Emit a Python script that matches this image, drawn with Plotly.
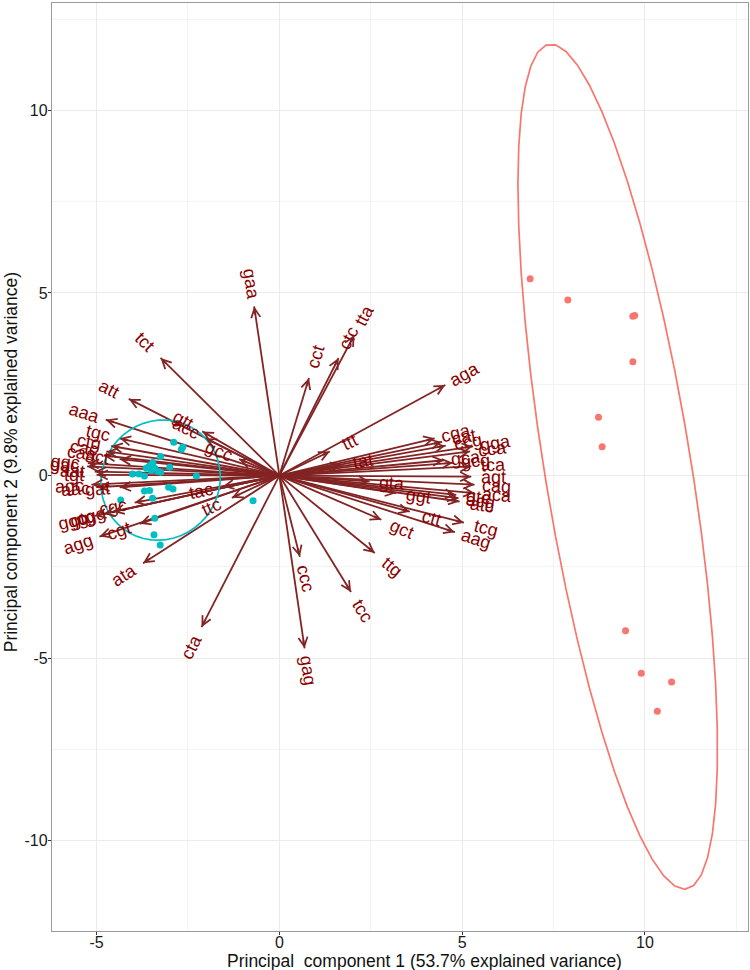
import numpy as np
import plotly.graph_objects as go

# ---- variable loadings (arrows) ----
var_names = ["gaa", "tct", "att", "aaa", "gtt", "acc", "gcc", "tac", "ttc",
             "tgc", "ctg", "cac", "caa", "act", "ggc", "gac", "aat", "tgt",
             "agc", "aac", "gat", "cgc", "cgg", "gtg", "ggg", "cgt", "agg", "ata",
             "cta", "ccc", "gag", "tcc", "ttg",
             "cct", "ctc", "tta", "aga",
             "ttt", "tat", "gta", "ggt", "ctt", "gct", "tcg", "aag",
             "cga", "cat", "ccg", "gga", "cca", "gca", "gcg", "tca", "agt",
             "cag", "aca", "gtc", "acg", "atc"]
var_pc1 = [-0.69, -3.25, -4.12, -4.75, -2.11, -2.02, -1.10, -1.55, -1.30,
           -4.37, -4.60, -4.73, -4.80, -4.37, -5.24, -5.26, -5.05, -5.00,
           -5.14, -4.96, -4.37, -3.96, -4.55, -4.80, -5.05, -3.82, -4.92, -3.73,
           -2.13, 0.56, 0.69, 1.96, 2.61,
           0.81, 1.62, 2.05, 4.54,
           1.38, 1.70, 2.47, 3.20, 3.57, 2.79, 5.05, 4.80,
           4.25, 4.45, 4.55, 5.30, 5.22, 4.50, 4.75, 5.25, 5.25,
           5.34, 5.34, 4.84, 4.90, 4.93]
var_pc2 = [4.63, 3.22, 2.10, 1.53, 1.21, 1.02, 0.45, -0.30, -0.61,
           1.02, 0.81, 0.66, 0.55, 0.45, 0.34, 0.25, 0.11, 0.02,
           -0.25, -0.32, -0.32, -0.74, -0.99, -1.05, -1.10, -1.32, -1.67, -2.40,
           -4.15, -2.22, -4.73, -3.19, -2.12,
           2.67, 3.22, 3.85, 2.48,
           0.66, 0.29, -0.16, -0.48, -0.99, -1.21, -1.29, -1.55,
           1.02, 0.92, 0.82, 0.80, 0.66, 0.42, 0.35, 0.25, -0.03,
           -0.25, -0.48, -0.53, -0.62, -0.71]

# ---- observation scores ----
grp1_pc1 = [-2.89, -2.68, -2.64, -3.25, -3.46, -3.52, -3.57, -3.64, -3.41,
            -3.50, -3.32, -3.25, -3.00, -4.02, -3.84, -3.69, -2.27, -3.69,
            -3.55, -3.47, -3.03, -2.91, -4.34, -3.41, -3.43, -3.26, -0.72]
grp1_pc2 = [0.91, 0.72, 0.78, 0.52, 0.36, 0.29, 0.25, 0.20, 0.20,
            0.14, 0.11, 0.09, 0.23, 0.04, 0.04, -0.01, -0.01, -0.42,
            -0.41, -0.62, -0.32, -0.37, -0.67, -1.17, -1.62, -1.90, -0.69]
grp2_pc1 = [6.86, 7.89, 9.67, 9.72, 9.67, 8.73, 8.83, 9.47, 9.90, 10.73, 10.34]
grp2_pc2 = [5.39, 4.81, 4.36, 4.38, 3.12, 1.60, 0.79, -4.25, -5.41, -5.65, -6.45]

x_ticks = [-5, 0, 5, 10]
y_ticks = [-10, -5, 0, 5, 10]
x_title = "Principal  component 1 (53.7% explained variance)"
y_title = "Principal component 2 (9.8% explained variance)"

col1 = "#00BFC4"
col2 = "#F8766D"
arrow_col = "#832424"
text_col = "#8B0000"
ellipse_prob = 0.95


def conf_ellipse(xs, ys, prob):
    X = np.column_stack([xs, ys])
    sigma = np.cov(X, rowvar=False)
    mu = X.mean(axis=0)
    R = np.linalg.cholesky(sigma).T
    ed = np.sqrt(-2.0 * np.log(1.0 - prob))
    theta = np.concatenate([np.linspace(-np.pi, np.pi, 50), np.linspace(np.pi, -np.pi, 50)])
    circle = np.column_stack([np.cos(theta), np.sin(theta)])
    pts = circle @ R * ed + mu
    return pts[:, 0], pts[:, 1]


fig = go.Figure()

# arrow shafts
sx, sy = [], []
for vx, vy in zip(var_pc1, var_pc2):
    sx += [0, vx, None]
    sy += [0, vy, None]
fig.add_trace(go.Scatter(x=sx, y=sy, mode="lines", line=dict(color=arrow_col, width=1.8),
                         hoverinfo="skip", showlegend=False))

# points
fig.add_trace(go.Scatter(x=grp1_pc1, y=grp1_pc2, mode="markers",
                         marker=dict(color=col1, size=7), showlegend=False))
fig.add_trace(go.Scatter(x=grp2_pc1, y=grp2_pc2, mode="markers",
                         marker=dict(color=col2, size=7), showlegend=False))

# ellipses
for xs, ys, c in [(grp1_pc1, grp1_pc2, col1), (grp2_pc1, grp2_pc2, col2)]:
    ex, ey = conf_ellipse(xs, ys, ellipse_prob)
    fig.add_trace(go.Scatter(x=ex, y=ey, mode="lines", line=dict(color=c, width=1.7),
                             hoverinfo="skip", showlegend=False))

annotations = []
font_size = 18
for name, vx, vy in zip(var_names, var_pc1, var_pc2):
    phi = np.arctan2(vy, vx)
    # arrowhead
    annotations.append(dict(x=vx, y=vy, xref="x", yref="y", text="", showarrow=True,
                            ax=-np.cos(phi) * 10, ay=np.sin(phi) * 10,
                            arrowhead=5, arrowsize=1.0, arrowwidth=1.8,
                            arrowcolor=arrow_col, standoff=0))
    # label
    ang = np.degrees(np.arctan(vy / vx))
    w = len(name) * 0.55 * font_size
    d = 0.75 * w
    annotations.append(dict(x=vx, y=vy, xref="x", yref="y", text=name, showarrow=False,
                            textangle=-ang, xanchor="center", yanchor="middle",
                            xshift=np.cos(phi) * d, yshift=np.sin(phi) * d,
                            font=dict(size=font_size, color=text_col,
                                      family="Liberation Sans, Arial, sans-serif")))

annotations.append(dict(text=x_title, xref="paper", yref="paper", x=0.535, y=-0.0325,
                        showarrow=False, xanchor="center", yanchor="middle",
                        font=dict(size=17.5, color="#111")))
annotations.append(dict(text=y_title, xref="paper", yref="paper", x=-0.059, y=0.505,
                        showarrow=False, xanchor="center", yanchor="middle", textangle=-90,
                        font=dict(size=17.5, color="#111")))

axis_common = dict(showline=True, mirror=True, linecolor="#9a9a9a", linewidth=1.3,
                   ticks="outside", ticklen=3, tickcolor="#333", tickwidth=1,
                   showgrid=True, gridcolor="#ebebeb", gridwidth=1, zeroline=False,
                   automargin=False,
                   tickfont=dict(size=16, color="#1a1a1a"))

fig.update_layout(
    width=750, height=970,
    margin=dict(l=52, r=2, t=3, b=39, autoexpand=False),
    paper_bgcolor="white", plot_bgcolor="white",
    font=dict(family="Liberation Sans, Arial, sans-serif"),
    showlegend=False,
    annotations=annotations,
    xaxis=dict(range=[-6.22, 12.82], tickvals=x_ticks, ticktext=[str(v) for v in x_ticks],
               ticklabelstandoff=-6,
               minor=dict(tickvals=[-2.5, 2.5, 7.5, 12.5], showgrid=True, gridcolor="#f3f3f3", ticks=""),
               **axis_common),
    yaxis=dict(range=[-12.47, 12.94], tickvals=y_ticks, ticktext=[str(v) for v in y_ticks],
               ticklabelstandoff=-3,
               minor=dict(tickvals=[-12.5, -7.5, -2.5, 2.5, 7.5, 12.5], showgrid=True, gridcolor="#f3f3f3", ticks=""),
               **axis_common),
)

fig.write_html("out.html",
               config={"displayModeBar": False},
               post_script="document.body.style.margin='0';document.body.style.padding='0';"
                           "document.documentElement.style.overflow='hidden';")
